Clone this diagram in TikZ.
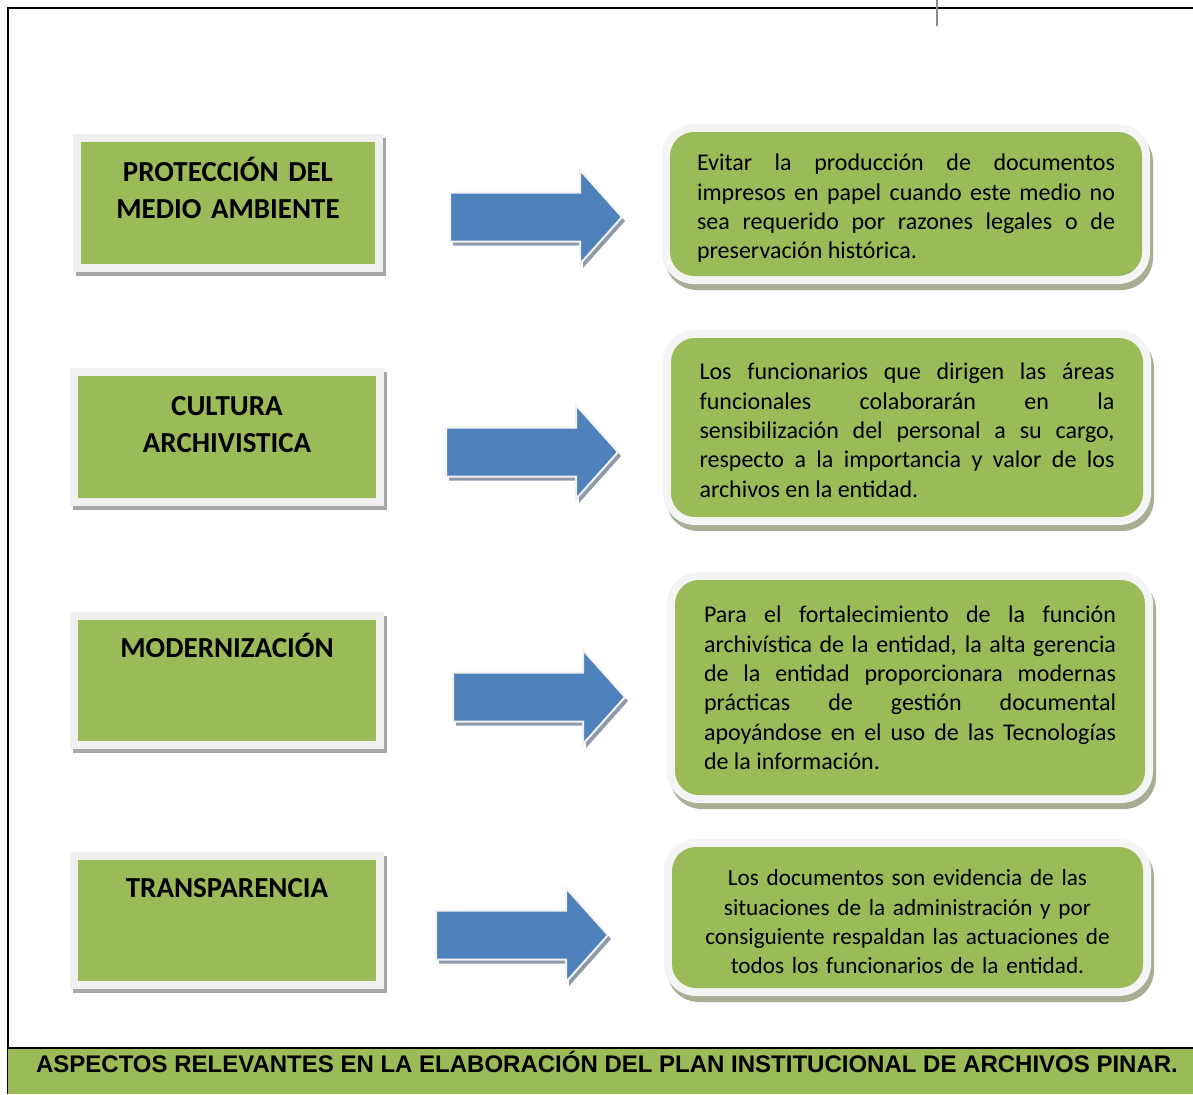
\documentclass[tikz,border=0pt]{standalone}
\usepackage{fontspec}
\setmainfont{Carlito}
\newfontfamily\arialfont{Liberation Sans}
\usetikzlibrary{shadows}
\definecolor{leaf}{HTML}{9BBB59}
\definecolor{sky}{HTML}{4F81BD}
\definecolor{skyshade}{HTML}{8E9AAC}
\definecolor{skyedge}{HTML}{F2F2F2}
\definecolor{frame}{HTML}{F0F0F0}
\definecolor{frameshade}{HTML}{A6A6A6}
\definecolor{rim}{HTML}{F4F4F4}
\definecolor{rimshade}{HTML}{A7AE94}

\begin{document}
\begin{tikzpicture}[
  x=0.5pt, y=-0.5pt,
  every node/.append style={text=black},
  every node/.append style={execute at begin node={\hyphenpenalty=10000\exhyphenpenalty=10000\tolerance=10000}},
  topic/.style={fill=frame, minimum width=157pt, minimum height=69pt, text width=150pt, align=center,
    inner sep=0pt, text height=23.5pt, text depth=45.5pt, font=\bfseries\fontsize{14.5}{18.8}\selectfont,
    drop shadow={shadow xshift=1.5pt, shadow yshift=-2.2pt, fill=frameshade, opacity=1},
    path picture={\fill[leaf] ([shift={(4pt,4pt)}]path picture bounding box.south west)
      rectangle ([shift={(-4pt,-4pt)}]path picture bounding box.north east);}},
  note/.style={fill=rim, rounded corners=16pt, minimum width=244pt, inner sep=0pt, align=justify,
    font=\fontsize{12}{14.7}\selectfont,
    drop shadow={shadow xshift=1.5pt, shadow yshift=-3pt, fill=rimshade, opacity=1},
    path picture={\fill[leaf, rounded corners=12pt] ([shift={(4pt,4pt)}]path picture bounding box.south west)
      rectangle ([shift={(-4pt,-4pt)}]path picture bounding box.north east);}},
  blockarr/.style={fill=sky, draw=skyedge, line width=1pt, line join=miter,
    drop shadow={shadow xshift=1.5pt, shadow yshift=-2pt, fill=skyshade, opacity=1}},
]
\useasboundingbox (0,0) rectangle (1193,1094);
% page frame and caption bar
\draw[line width=1.2pt, line join=miter] (8,1094) -- (8,8) -- (1193,8);
\draw[black!45, line width=0.6pt] (937,0) -- (937,26);
\fill[leaf] (8,1048) rectangle (1193,1094);
\draw[line width=1pt] (8,1048) -- (1193,1048);
\node[anchor=base, inner sep=0pt, font=\arialfont\bfseries\fontsize{12}{14}\selectfont] (caption) at (607,1072)
  {ASPECTOS RELEVANTES EN LA ELABORACIÓN DEL PLAN INSTITUCIONAL DE ARCHIVOS PINAR.};
% aspects
\node[topic, minimum width=155pt] (prot) at (228,203) {PROTECCIÓN DEL\\MEDIO AMBIENTE};
\node[topic] (cult) at (227,437) {CULTURA\\ARCHIVISTICA};
\node[topic, minimum height=68.5pt, text height=22.5pt, text depth=46pt] (mod) at (227,680.5) {MODERNIZACIÓN};
\node[topic, minimum height=68.5pt, text height=22.5pt, text depth=46pt] (trans) at (227,920.5) {TRANSPARENCIA};
% what each aspect means
\node[note, minimum height=80pt, text width=209pt, text height=23.3pt, text depth=56.7pt] (dprot) at (906,204)
  {Evitar la producción de documentos\linebreak impresos en papel cuando este medio no\linebreak
   sea requerido por razones legales o de\linebreak preservación histórica.};
\node[note, minimum height=97.5pt, text width=207.5pt, text height=24.8pt, text depth=72.7pt] (dcult) at (907,427.5)
  {Los funcionarios que dirigen las áreas\linebreak funcionales colaborarán en la\linebreak
   sensibilización del personal a su cargo,\linebreak respecto a la importancia y valor de los\linebreak
   archivos en la entidad.};
\node[note, minimum width=243pt, minimum height=115.5pt, text width=206pt, text height=25.3pt, text depth=90.2pt] (dmod) at (910,687.5)
  {Para el fortalecimiento de la función\linebreak archivística de la entidad, la alta gerencia\linebreak
   de la entidad proporcionara modernas\linebreak prácticas de gestión documental\linebreak
   apoyándose en el uso de las Tecnologías\linebreak de la información.};
\node[note, minimum width=243.5pt, minimum height=78.5pt, text width=214pt, text height=23.3pt, text depth=55.2pt,
  align=center, font=\fontsize{11.6}{14.7}\selectfont] (dtrans) at (907.5,917.5)
  {Los documentos son evidencia de las\\situaciones de la administración y por\\
   consiguiente respaldan las actuaciones de\\todos los funcionarios de la entidad.};
% block arrows
\foreach \a/\x/\y in {prot/450/217, cult/446/452, mod/453/697, trans/436/935} {
  \coordinate (a\a) at (\x,\y);
  \draw[blockarr] (a\a) ++(0,-24.5) -- ++(130,0) -- ++(0,-22.5) -- ++(42,47) -- ++(-42,47)
    -- ++(0,-22.5) -- ++(-130,0) -- cycle;
}
\end{tikzpicture}
\end{document}
